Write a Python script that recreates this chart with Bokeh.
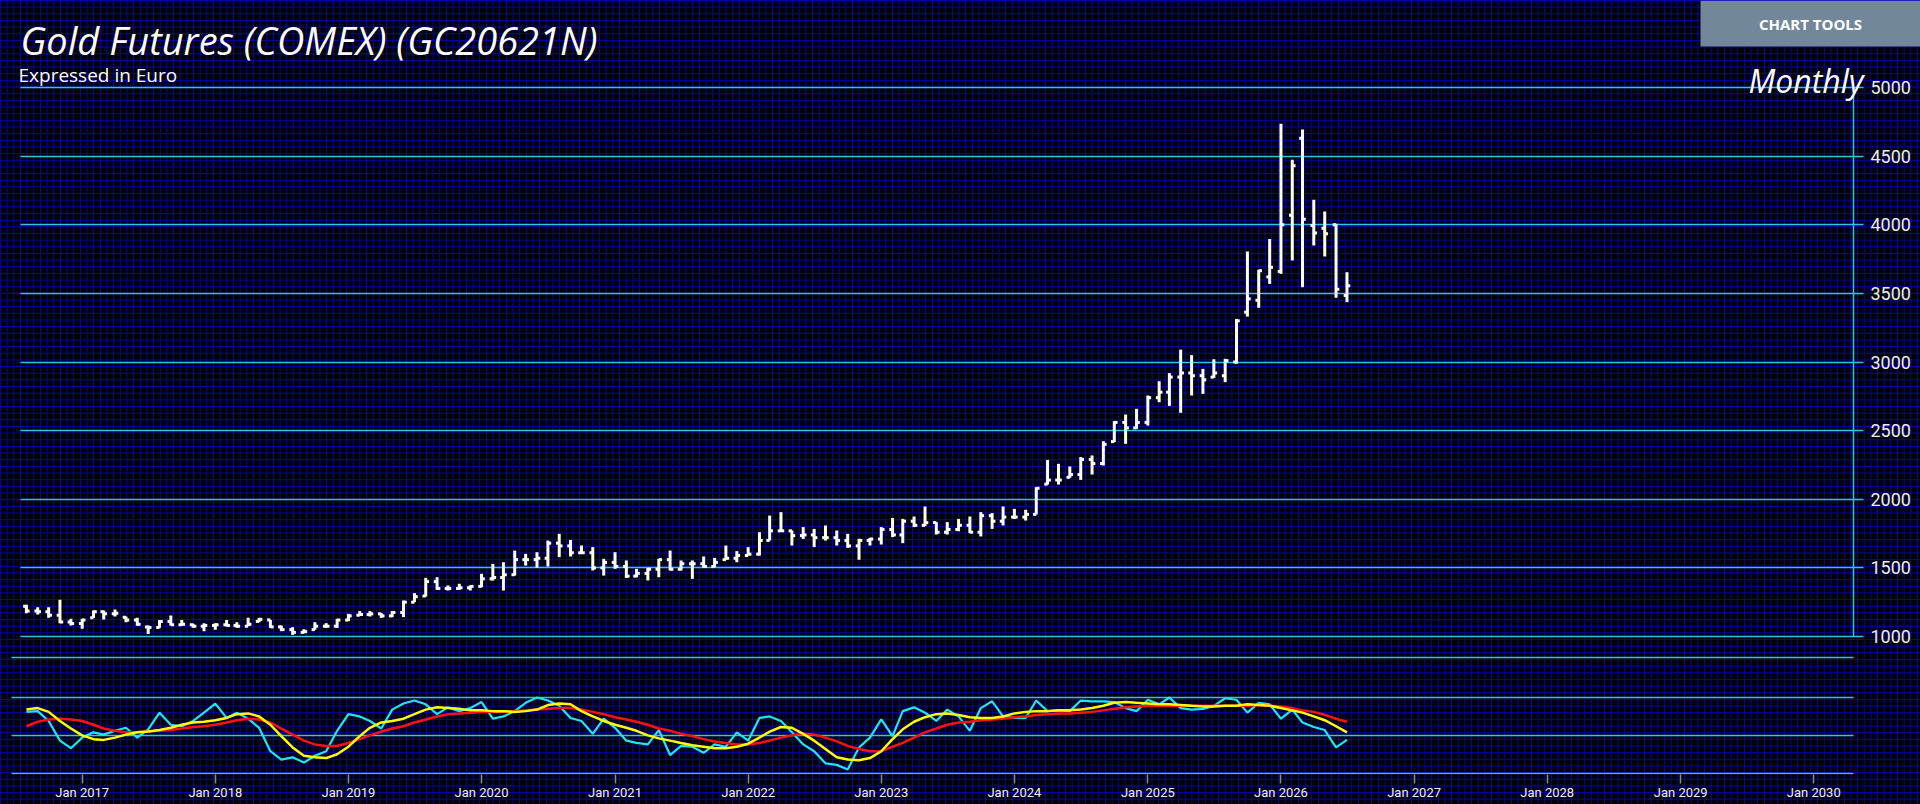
import pandas as pd
from bokeh.plotting import figure
from bokeh.models import (Range1d, FixedTicker, DatetimeTickFormatter, LinearAxis, Label,
                          BoxAnnotation, ColumnDataSource, GlobalInlineStyleSheet)
from bokeh.embed import file_html
from bokeh.resources import INLINE

# ---------------- data ----------------
months = pd.date_range("2016-08-01", periods=120, freq="MS")

open_ = [1220, 1185, 1180, 1155, 1105,
         1095, 1136, 1180, 1165, 1140, 1120, 1070, 1065, 1110, 1085, 1085, 1075,
         1080, 1085, 1080, 1075, 1110, 1121, 1070, 1050, 1030, 1050, 1075, 1075,
         1120, 1155, 1160, 1165, 1150, 1175, 1250, 1295, 1400, 1350, 1350, 1355,
         1365, 1420, 1430, 1450, 1560, 1560, 1570, 1680, 1660, 1610, 1610, 1500,
         1540, 1510, 1440, 1460, 1490, 1560, 1490, 1530, 1530, 1510, 1560, 1570,
         1590, 1600, 1700, 1770, 1770, 1735, 1740, 1720, 1720, 1700, 1660, 1700,
         1710, 1780, 1740, 1840, 1810, 1830, 1760, 1780, 1810, 1760, 1880, 1840,
         1870, 1870, 1890, 2110, 2140, 2160, 2180, 2290, 2260, 2420, 2560, 2520,
         2560, 2740, 2780, 2890, 2920, 2900, 2890, 2900, 3000, 3363, 3450, 3620,
         3660, 4070, 4630, 3995, 3975, 4000, 3485]
high = [1231, 1214, 1214, 1267, 1129,
        1129, 1189, 1189, 1197, 1146, 1136, 1080, 1121, 1153, 1121, 1092, 1097,
        1097, 1121, 1104, 1136, 1136, 1121, 1080, 1068, 1053, 1104, 1097, 1129,
        1165, 1185, 1185, 1170, 1185, 1262, 1316, 1427, 1432, 1372, 1384, 1372,
        1457, 1529, 1541, 1626, 1602, 1614, 1699, 1748, 1704, 1663, 1651, 1566,
        1614, 1554, 1493, 1500, 1566, 1626, 1554, 1554, 1583, 1573, 1663, 1622,
        1651, 1760, 1881, 1906, 1772, 1797, 1784, 1809, 1772, 1748, 1712, 1719,
        1797, 1864, 1857, 1874, 1947, 1833, 1833, 1857, 1874, 1906, 1899, 1947,
        1930, 1923, 2088, 2287, 2258, 2239, 2307, 2319, 2423, 2569, 2617, 2659,
        2756, 2860, 2919, 3090, 3050, 2950, 3020, 3023, 3314, 3805, 3672, 3897,
        4735, 4473, 4694, 4182, 4097, 4007, 3654]
low = [1170, 1160, 1136, 1097, 1080,
       1056, 1134, 1124, 1146, 1104, 1078, 1019, 1063, 1080, 1080, 1063, 1039,
       1050, 1073, 1063, 1075, 1104, 1063, 1039, 1012, 1024, 1049, 1063, 1063,
       1112, 1153, 1146, 1136, 1141, 1141, 1250, 1291, 1340, 1335, 1340, 1335,
       1359, 1408, 1335, 1444, 1517, 1500, 1510, 1578, 1583, 1602, 1481, 1444,
       1493, 1427, 1432, 1408, 1432, 1481, 1481, 1420, 1500, 1505, 1559, 1541,
       1590, 1590, 1700, 1765, 1663, 1711, 1651, 1699, 1663, 1646, 1559, 1663,
       1670, 1724, 1680, 1797, 1805, 1743, 1743, 1767, 1753, 1729, 1784, 1809,
       1857, 1845, 1889, 2107, 2107, 2156, 2141, 2180, 2246, 2416, 2404, 2513,
       2537, 2707, 2680, 2630, 2756, 2768, 2884, 2853, 2987, 3331, 3395, 3569,
       3642, 3740, 3545, 3849, 3769, 3468, 3436]
close = [1185, 1180, 1155, 1105, 1095,
         1120, 1180, 1165, 1170, 1120, 1090, 1065, 1110, 1085, 1090, 1075, 1080,
         1085, 1080, 1075, 1090, 1125, 1070, 1050, 1030, 1035, 1075, 1075, 1120,
         1150, 1160, 1165, 1150, 1175, 1250, 1290, 1400, 1350, 1350, 1355, 1365,
         1420, 1430, 1450, 1560, 1560, 1570, 1680, 1660, 1610, 1610, 1500, 1540,
         1510, 1440, 1460, 1490, 1560, 1490, 1530, 1530, 1510, 1540, 1570, 1590,
         1600, 1700, 1770, 1770, 1735, 1740, 1720, 1720, 1700, 1660, 1700, 1710,
         1780, 1740, 1840, 1810, 1830, 1760, 1780, 1810, 1760, 1880, 1840, 1870,
         1870, 1890, 2080, 2140, 2140, 2180, 2290, 2260, 2400, 2560, 2520, 2560,
         2740, 2780, 2890, 2920, 2900, 2870, 2920, 3010, 3300, 3460, 3665, 3690,
         4000, 4430, 4040, 3940, 3935, 3530, 3555]

# oscillator pane (0-100 scale)
osc_fast = [81, 82, 69, 43, 33,
            47, 54, 51, 56, 60, 47, 58, 80, 64, 62, 69, 80,
            92, 73, 80, 72, 60, 29, 18, 21, 14, 23, 29, 56,
            78, 75, 69, 59, 84, 92, 96, 91, 78, 87, 82, 86,
            94, 72, 75, 82, 93, 100, 96, 89, 73, 69, 52, 72,
            60, 43, 40, 38, 57, 24, 36, 35, 27, 38, 35, 54,
            43, 73, 75, 69, 54, 38, 29, 13, 11, 5, 34, 47,
            71, 49, 82, 87, 80, 69, 84, 75, 56, 86, 95, 75,
            73, 73, 96, 82, 83, 82, 96, 95, 95, 94, 86, 82,
            97, 91, 100, 86, 84, 85, 89, 99, 97, 80, 93, 91,
            72, 84, 67, 61, 57, 34, 44]
osc_signal = [84, 86, 81, 69, 59,
              50, 45, 44, 47, 51, 54, 55, 57, 60, 64, 67, 68,
              70, 73, 78, 79, 75, 64, 49, 34, 23, 21, 20, 25,
              35, 49, 60, 67, 69, 72, 78, 84, 87, 86, 85, 83,
              83, 82, 82, 81, 82, 84, 90, 92, 91, 82, 75, 69,
              64, 60, 56, 50, 46, 43, 40, 37, 35, 33, 33, 35,
              39, 47, 55, 61, 60, 52, 43, 32, 21, 18, 17, 20,
              29, 45, 58, 68, 74, 78, 79, 77, 74, 73, 73, 75,
              79, 81, 82, 82, 83, 83, 84, 86, 89, 93, 94, 93,
              92, 91, 91, 90, 89, 88, 88, 89, 89, 91, 90, 89,
              86, 83, 80, 75, 70, 62, 54]
osc_slow = [62, 68, 71, 72, 71,
            69, 64, 59, 56, 54, 54, 55, 56, 57, 59, 61, 62,
            64, 67, 70, 72, 71, 67, 59, 51, 43, 38, 36, 36,
            40, 45, 50, 55, 59, 62, 67, 71, 75, 78, 79, 80,
            81, 81, 81, 82, 83, 84, 85, 86, 86, 84, 81, 78,
            74, 71, 68, 64, 59, 56, 52, 49, 45, 42, 40, 38,
            38, 40, 43, 47, 50, 52, 51, 47, 42, 36, 32, 29,
            29, 35, 40, 47, 54, 59, 64, 67, 68, 70, 71, 72,
            74, 75, 77, 78, 79, 79, 80, 81, 83, 85, 87, 88,
            89, 89, 89, 89, 89, 89, 89, 89, 89, 89, 90, 89,
            88, 86, 83, 81, 77, 72, 68]

price_ticks = [1000, 1500, 2000, 2500, 3000, 3500, 4000, 4500, 5000]
osc_levels = [0, 50, 100]
year_ticks = pd.date_range("2017-01-01", "2030-01-01", freq="YS")

# ---------------- layout constants (page pixels) ----------------
W, H = 1920, 804
BB = 30                      # bottom band for the date axis
FH = H - BB                  # frame spans the full width, y 0..FH
AXIS_X = 1853                # x of the price axis line
CYAN_LINE = "#2fc6dc"
GRID_BLUE = "#0000b4"

t2017 = pd.Timestamp("2017-01-01")
X2017 = 81.7
px_per_day = 0.3647
def x_at(px):
    return (t2017 + pd.Timedelta(days=(px - X2017) / px_per_day)).value / 1e6

k = 549.0 / 4000.0           # px per euro
Y5000 = 87.0
p_top = 5000 + Y5000 / k
p_bot = 5000 - (FH - Y5000) / k

O100, O0 = 697.0, 772.7
ks = (O0 - O100) / 100.0
osc_top = 100 + O100 / ks
osc_bot = -(FH - O0) / ks
sep_level = round((O0 - 657.0) / ks, 1)   # pane separator line

p = figure(width=W, height=H, x_axis_type="datetime", y_axis_location="right",
           x_range=Range1d(x_at(0), x_at(W)), y_range=Range1d(p_bot, p_top),
           output_backend="svg", toolbar_location=None,
           min_border_left=0, min_border_right=0, min_border_top=0, min_border_bottom=BB)
p.extra_y_ranges = {"osc": Range1d(osc_bot, osc_top)}

p.background_fill_alpha = 0
p.border_fill_alpha = 0
p.outline_line_color = None
p.stylesheets = [GlobalInlineStyleSheet(css=(
    "html,body{background-color:#000;"
    "background-image:linear-gradient(%s 1.3px, transparent 1.3px),"
    "linear-gradient(90deg, %s 1.3px, transparent 1.3px);"
    "background-size:6.67px 6.67px;}" % (GRID_BLUE, GRID_BLUE)))]

p.xgrid.grid_line_color = None
p.ygrid.grid_line_color = None

# price axis inside the frame; its long inward ticks form the horizontal price lines
ya = p.yaxis[0]
ya.fixed_location = x_at(AXIS_X)
ya.level = "underlay"
ya.ticker = FixedTicker(ticks=price_ticks)
ya.bounds = (1000, 5000)
ya.axis_line_color = CYAN_LINE
ya.axis_line_width = 1.5
ya.major_tick_line_color = CYAN_LINE
ya.major_tick_line_width = 1.5
ya.major_tick_out = 10
ya.major_tick_in = AXIS_X - 20
ya.minor_tick_line_color = None
ya.major_label_text_color = "#eeeeee"
ya.major_label_text_font = "Roboto"
ya.major_label_text_font_size = "18px"
ya.major_label_standoff = 7

# oscillator pane levels (0 / 50 / 100) and the pane separator
oa = LinearAxis(y_range_name="osc", fixed_location=x_at(AXIS_X), level="underlay",
                ticker=FixedTicker(ticks=osc_levels + [sep_level]),
                major_label_overrides={v: "" for v in osc_levels + [sep_level]},
                axis_line_color=None, major_tick_line_color=CYAN_LINE,
                major_tick_line_width=1.5, major_tick_out=0, major_tick_in=AXIS_X - 11,
                minor_tick_line_color=None)
p.add_layout(oa, "right")

# bottom date axis
xa = p.xaxis[0]
xa.ticker = FixedTicker(ticks=[t.value / 1e6 for t in year_ticks])
xa.formatter = DatetimeTickFormatter(years="%b %Y", months="%b %Y", days="%b %Y",
                                     hours="%b %Y", minutes="%b %Y", seconds="%b %Y",
                                     milliseconds="%b %Y")
xa.axis_line_color = None
xa.major_tick_line_color = "#8a8a8a"
xa.major_tick_line_width = 1.5
xa.major_tick_out = 9
xa.major_tick_in = 0
xa.minor_tick_line_color = None
xa.major_label_text_color = "#f0f0f0"
xa.major_label_text_font = "Roboto"
xa.major_label_text_font_size = "13px"
xa.major_label_standoff = 1

# OHLC bars
tick = pd.Timedelta(days=9)
src = ColumnDataSource(dict(date=months, left=months - tick, right=months + tick,
                            open=open_, high=high, low=low, close=close))
p.segment(x0="date", y0="low", x1="date", y1="high", source=src, line_color="white", line_width=3)
p.segment(x0="left", y0="open", x1="date", y1="open", source=src, line_color="white", line_width=3)
p.segment(x0="date", y0="close", x1="right", y1="close", source=src, line_color="white", line_width=3)

# oscillator lines
p.line(months, osc_fast, y_range_name="osc", line_color="#1ee6f6", line_width=2.2)
p.line(months, osc_slow, y_range_name="osc", line_color="#ff1010", line_width=2.5)
p.line(months, osc_signal, y_range_name="osc", line_color="#ffff00", line_width=2.5)

# texts (screen units: x from frame left, y up from frame bottom)
def sy(y_page):
    return FH - y_page

p.add_layout(Label(x=20, y=sy(39), x_units="screen", y_units="screen",
                   text="Gold Futures (COMEX) (GC20621N)", text_color="white",
                   text_font="Open Sans", text_font_style="italic", text_font_size="38px",
                   text_baseline="alphabetic"))
p.add_layout(Label(x=18, y=sy(74), x_units="screen", y_units="screen",
                   text="Expressed in Euro", text_color="white",
                   text_font="Open Sans", text_font_size="19px", text_baseline="alphabetic"))
p.add_layout(Label(x=1863, y=sy(80), x_units="screen", y_units="screen",
                   text="Monthly", text_color="white", text_align="right",
                   text_font="Open Sans", text_font_style="italic", text_font_size="32px",
                   text_baseline="alphabetic"))
p.add_layout(BoxAnnotation(left=1700, right=1920, bottom=sy(46), top=sy(0),
                           left_units="screen", right_units="screen",
                           bottom_units="screen", top_units="screen",
                           fill_color="#72879a", fill_alpha=1.0, line_color=None))
p.add_layout(Label(x=1810, y=sy(23), x_units="screen", y_units="screen",
                   text="CHART TOOLS", text_color="white", text_align="center",
                   text_baseline="middle", text_font="Open Sans", text_font_style="bold",
                   text_font_size="15px"))

open("out.html", "w").write(file_html(p, INLINE))
